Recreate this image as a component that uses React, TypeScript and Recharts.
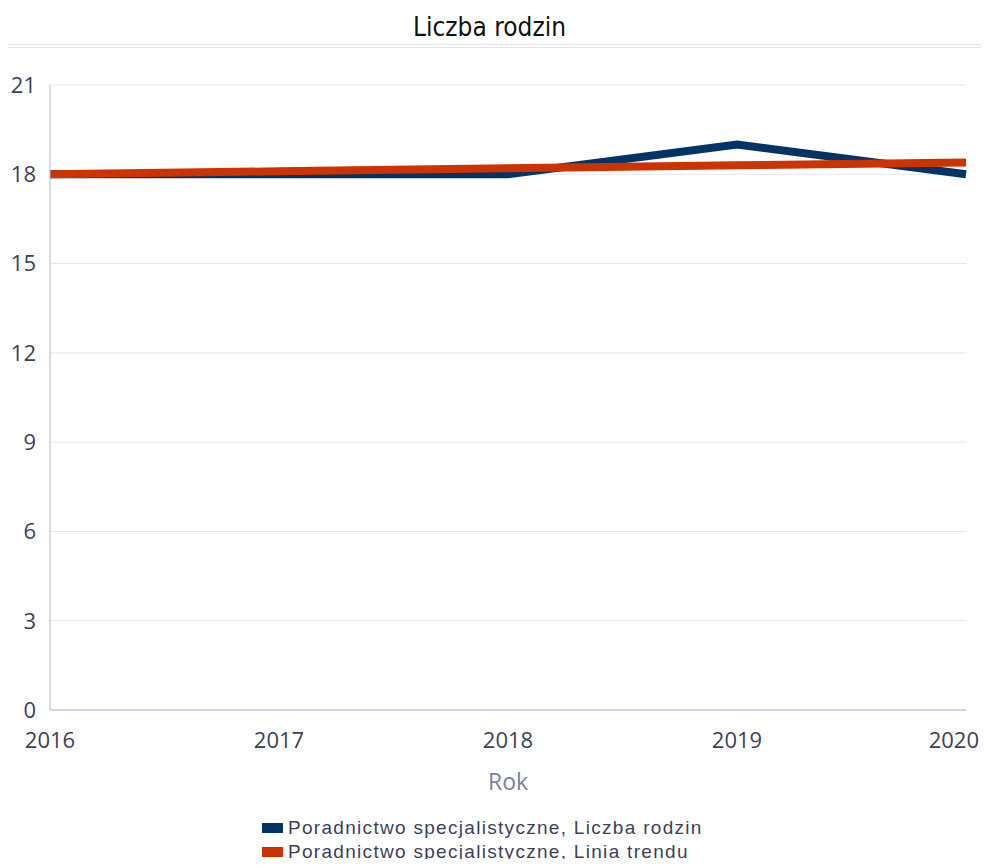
import { LineChart, Line, XAxis, YAxis, CartesianGrid } from 'recharts'

const years = ['2016', '2017', '2018', '2019', '2020']
const liczbaRodzin = [18, 18, 18, 19, 18]
const liniaTrendu = [18.0, 18.1, 18.2, 18.3, 18.4]
const yTicks = [0, 3, 6, 9, 12, 15, 18, 21]

const SERIES = [
  { key: 'liczba', name: 'Poradnictwo specjalistyczne, Liczba rodzin', color: '#003466' },
  { key: 'trend', name: 'Poradnictwo specjalistyczne, Linia trendu', color: '#cc3300' },
]

const data = years.map((year, i) => ({ year, liczba: liczbaRodzin[i], trend: liniaTrendu[i] }))

const TEXT = '#3d3f57'

// last label is pulled inside so it doesn't run off the page
const YearTick = (props: any) => {
  const { x, y, payload } = props
  const last = payload.value === years[years.length - 1]
  return (
    <text x={last ? x + 13 : x} y={y} dy={34} textAnchor={last ? 'end' : 'middle'} fontSize={22} fill={TEXT}>
      {payload.value}
    </text>
  )
}

export default function App() {
  return (
    <div style={{ position: 'relative', width: 981, height: 851, fontFamily: '"Open Sans", sans-serif' }}>
      {/* Title */}
      <div style={{
        position: 'absolute', left: -5, top: 4, width: 973, textAlign: 'center',
        fontFamily: '"DejaVu Sans Condensed", "DejaVu Sans", sans-serif', fontSize: 26, color: '#111',
      }}>
        Liczba rodzin
      </div>
      <div style={{ position: 'absolute', left: 0, top: 36, width: 981, height: 2, borderTop: '1px solid #e3e3ee', borderBottom: '1px solid #e3e3ee' }} />

      <div style={{ position: 'absolute', left: 0, top: 50 }}>
        <LineChart width={981} height={760} data={data} margin={{ top: 27, right: 23, bottom: 28, left: 0 }} style={{ overflow: 'visible' }}>
          <CartesianGrid vertical={false} stroke="#e6e6ee" />
          <XAxis
            dataKey="year"
            height={80}
            stroke="#b3b6cb"
            tickLine={false}
            tickSize={0}
            tickMargin={4}
            interval={0}
            tick={<YearTick />}
            label={{ value: 'Rok', position: 'insideBottom', offset: 0, fill: '#7b7f9e', fontSize: 23 }}
          />
          <YAxis
            width={42}
            domain={[0, 21]}
            ticks={yTicks}
            stroke="#b3b6cb"
            tickLine={false}
            tickSize={0}
            tickMargin={14}
            interval={0}
            tick={{ fontSize: 22, fill: TEXT }}
          />
          {SERIES.map(s => (
            <Line
              key={s.key}
              dataKey={s.key}
              name={s.name}
              stroke={s.color}
              strokeWidth={8}
              dot={false}
              activeDot={false}
              isAnimationActive={false}
            />
          ))}
        </LineChart>
      </div>

      {/* Legend */}
      <div style={{ position: 'absolute', left: 254, top: 808, fontFamily: '"Liberation Sans", Arial, sans-serif', fontSize: 19, letterSpacing: 1.3, color: TEXT, lineHeight: '24px' }}>
        {SERIES.map(s => (
          <div key={s.key} style={{ display: 'flex', alignItems: 'center', gap: 5 }}>
            <span style={{ width: 21, height: 10, backgroundColor: s.color, display: 'inline-block' }} />
            {s.name}
          </div>
        ))}
      </div>
    </div>
  )
}
